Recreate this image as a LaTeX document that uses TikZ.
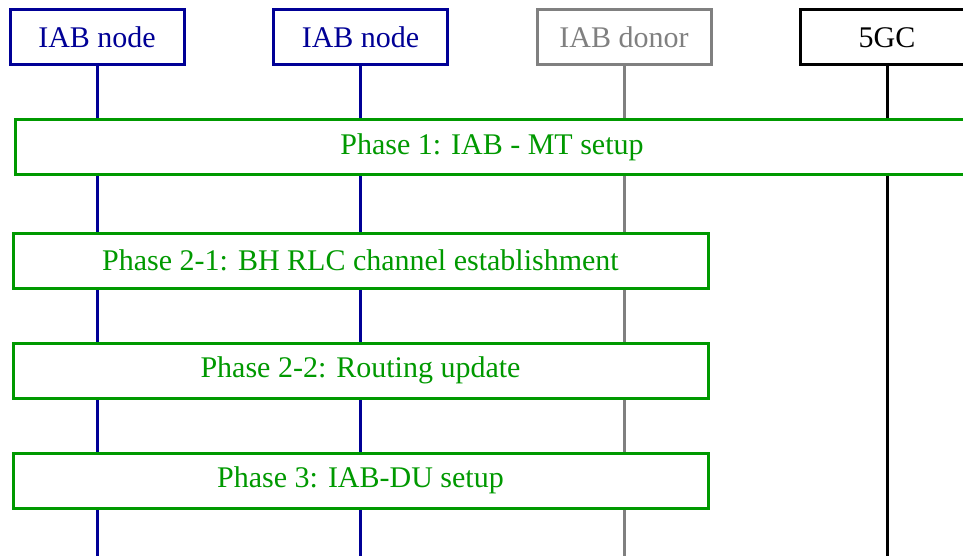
\documentclass[tikz,border=0pt]{standalone}
\usepackage{fontspec}
\setmainfont{Liberation Serif}
\definecolor{entblue}{RGB}{0,0,150}
\definecolor{phasegreen}{RGB}{0,153,0}
\definecolor{donorgray}{RGB}{128,128,128}
\begin{document}
\begin{tikzpicture}[x=1pt,y=-1pt,
  entity/.style={draw, line width=3pt, fill=white, minimum width=174pt, minimum height=55pt,
    inner sep=0pt, font=\fontsize{30}{34}\selectfont},
  lifeline/.style={line width=3pt},
  phase/.style={draw=phasegreen, text=phasegreen, line width=3pt, fill=white,
    minimum height=55pt, inner sep=0pt, font=\fontsize{30}{34}\selectfont}]
\useasboundingbox (0,0) rectangle (963,556);
\clip (0,0) rectangle (963,556);

% entities at the top
\node[entity, draw=entblue, text=entblue] (n1) at (97,37.5) {IAB node};
\node[entity, draw=entblue, text=entblue] (n2) at (360.5,37.5) {IAB node};
\node[entity, draw=donorgray, text=donorgray] (don) at (624,37.5) {IAB donor};
\node[entity, draw=black, text=black] (core) at (887,37.5) {5GC};

% lifeline ends
\coordinate (e1) at (97,560);
\coordinate (e2) at (360.5,560);
\coordinate (e3) at (624,560);
\coordinate (e4) at (887,560);

\draw[lifeline, entblue] (n1.south) -- (e1);
\draw[lifeline, entblue] (n2.south) -- (e2);
\draw[lifeline, donorgray] (don.south) -- (e3);
\draw[lifeline, black] (core.south) -- (e4);

% phases
\node[phase, minimum width=954pt] (p1) at (492,147.5) {Phase 1: IAB - MT setup};
\node[phase, minimum width=695pt] (p21) at (360.5,260.5) {Phase 2-1: BH RLC channel establishment};
\node[phase, minimum width=695pt] (p22) at (360.5,370.5) {Phase 2-2: Routing update};
\node[phase, minimum width=695pt] (p3) at (360.5,480.5) {Phase 3: IAB-DU setup};
\end{tikzpicture}
\end{document}
